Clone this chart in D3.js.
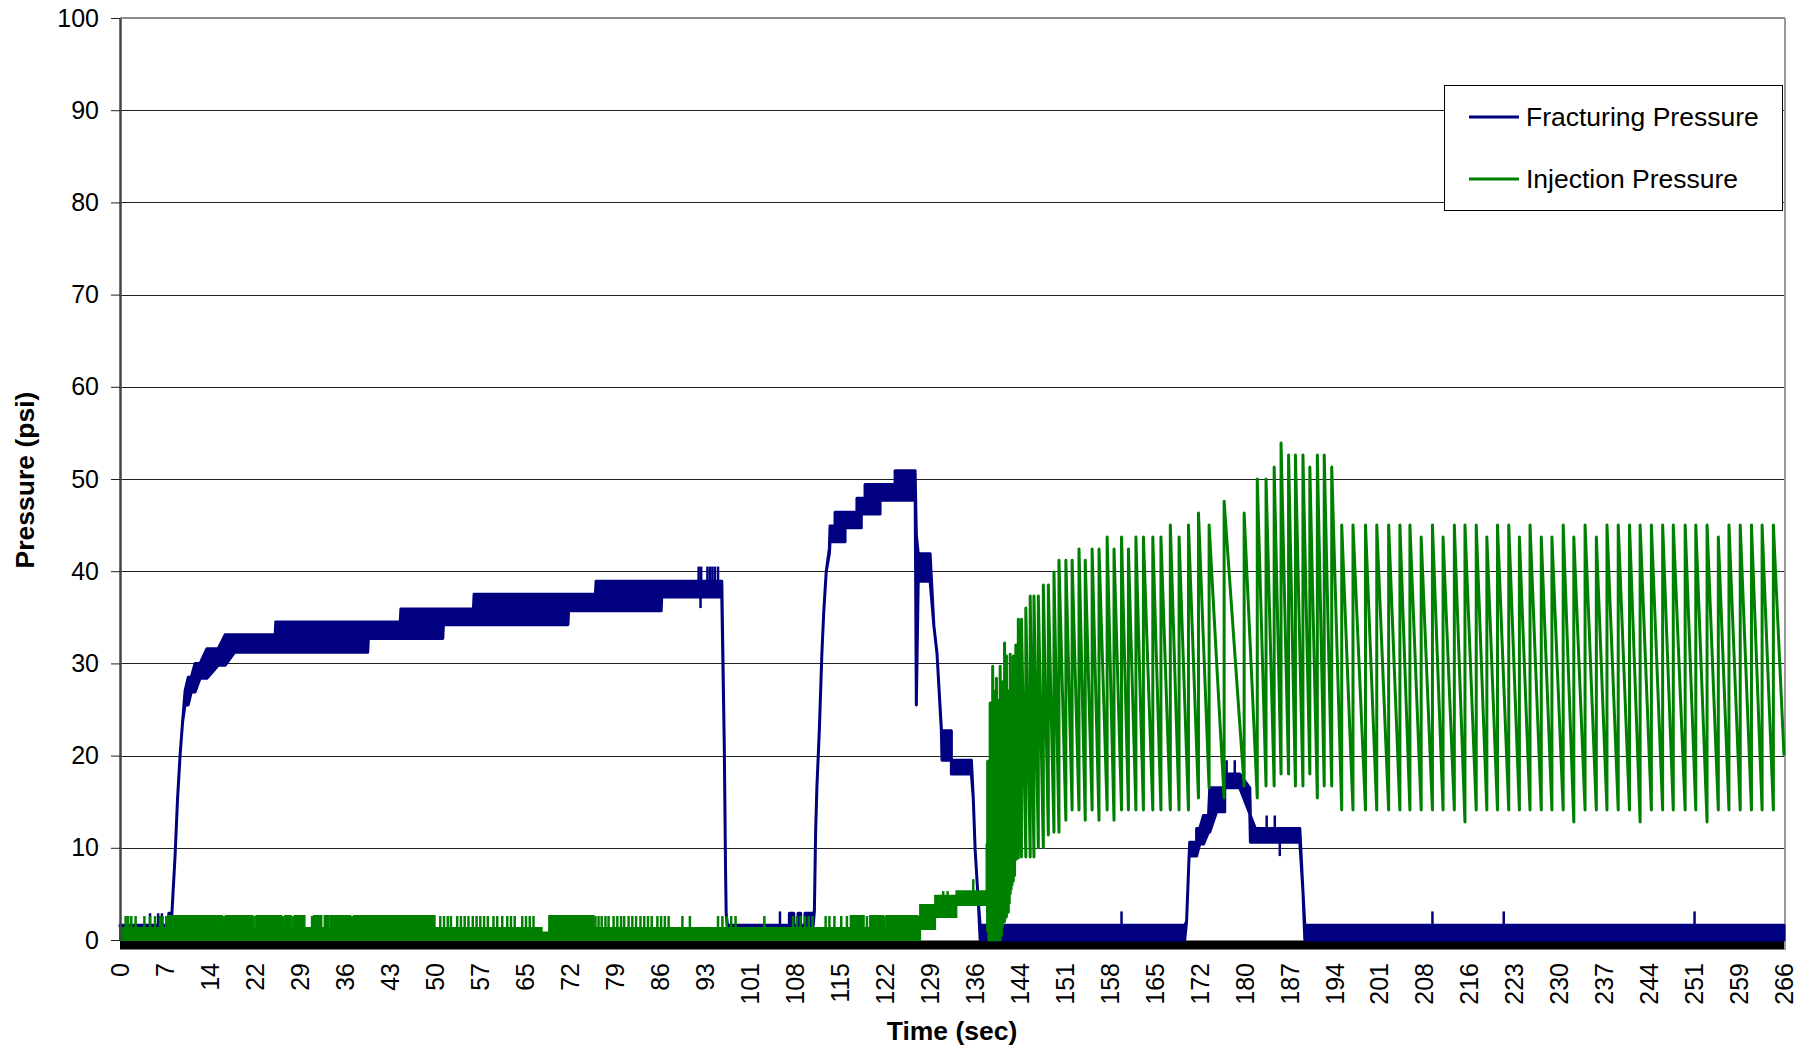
<!DOCTYPE html>
<html>
<head>
<meta charset="utf-8">
<script src="https://cdn.jsdelivr.net/npm/d3@7"></script>
<style>
  body { margin: 0; background: #fff; }
  svg { display: block; font-family: "Liberation Sans", Arial, sans-serif; }
</style>
</head>
<body>
<svg width="1811" height="1051"></svg>
<script>
const width = 1811,
    height = 1051;

// x tick labels (seconds) and y ticks (psi)
const timeLabels = [0, 7, 14, 22, 29, 36, 43, 50, 57, 65, 72, 79, 86, 93, 101, 108, 115, 122, 129, 136,
    144, 151, 158, 165, 172, 180, 187, 194, 201, 208, 216, 223, 230, 237, 244, 251, 259, 266];
const pressureTicks = [0, 10, 20, 30, 40, 50, 60, 70, 80, 90, 100];
const seriesNames = ["Fracturing Pressure", "Injection Pressure"];

// Fracturing pressure: [time, low, high] of the noisy band
const fracBand = [
    [0, 1.5, 1.6], [7.8, 1.5, 1.6], [7.8, 1.5, 2.9], [8.2, 1.5, 2.9],
    [8.3, 2.9, 2.9], [8.8, 9.1, 9.1], [9.2, 15.3, 15.3], [9.6, 20, 20], [10.0, 23.6, 23.6],
    [10.4, 25.5, 27], [10.9, 25.5, 28.5], [11.4, 26.9, 28.5], [12.0, 26.9, 30],
    [12.8, 28.4, 30], [13.9, 28.4, 31.6], [15.7, 29.8, 31.6], [16.8, 29.8, 33.1],
    [18.3, 31.2, 33.1], [24.8, 31.2, 33.1], [24.9, 31.2, 34.5], [39.6, 31.2, 34.5],
    [39.7, 32.7, 34.5], [44.8, 32.7, 34.5], [44.9, 32.7, 35.9], [51.6, 32.7, 35.9],
    [51.7, 34.2, 35.9], [56.5, 34.2, 35.9], [56.6, 34.2, 37.5], [71.6, 34.2, 37.5],
    [71.7, 35.7, 37.5], [76.0, 35.7, 37.5], [76.1, 35.7, 38.9], [86.5, 35.7, 38.9],
    [86.6, 37.2, 38.9], [96.2, 37.2, 38.9],
    [96.6, 21, 21], [96.8, 7.6, 7.6], [96.9, 2.9, 2.9], [97.1, 1.5, 1.6],
    [107.0, 1.5, 1.6], [107.0, 1.5, 2.9], [107.7, 1.5, 2.9], [107.7, 1.5, 1.6],
    [108.4, 1.5, 1.6], [108.4, 1.5, 2.9], [108.8, 1.5, 2.9], [108.8, 1.5, 1.6],
    [109.5, 1.5, 1.6], [109.5, 1.5, 2.9], [110.8, 1.5, 2.9],
    [111.0, 3.1, 3.1], [111.2, 11.7, 11.7], [111.4, 16.5, 16.5], [111.8, 22.9, 22.9],
    [112.2, 31.1, 31.1], [112.5, 35.6, 35.6], [112.9, 40, 40], [113.4, 41.9, 42.5],
    [113.5, 43.2, 44.9], [114.3, 43.2, 44.9], [114.3, 43.2, 46.4], [115.9, 43.2, 46.4],
    [115.9, 44.7, 46.4], [117.8, 44.7, 46.4], [117.8, 44.7, 47.9], [118.5, 44.7, 47.9],
    [118.5, 46.2, 47.9], [119.1, 46.2, 47.9], [119.1, 46.2, 49.4], [121.5, 46.2, 49.4],
    [121.5, 47.7, 49.4], [123.9, 47.7, 49.4], [123.9, 47.7, 50.9], [126.8, 47.7, 50.9],
    [126.8, 49.4, 50.9], [127.1, 49.4, 50.9],
    [127.3, 25.5, 44], [127.6, 38.9, 41.9], [129.5, 38.9, 41.9],
    [130.1, 34.1, 34.1], [130.6, 31.1, 31.1], [131.3, 22.7, 22.9], [131.4, 19.5, 22.7],
    [132.9, 19.5, 22.7], [132.9, 18, 19.5], [136.1, 18, 19.5],
    [136.4, 15.4, 15.4], [136.7, 9.8, 9.8], [137.2, 4.2, 4.2], [137.5, 0, 1.6],
    [170.2, 0, 1.6], [170.5, 2, 2], [170.9, 9.1, 9.1], [171.0, 9.1, 10.6], [172.1, 9.1, 10.6],
    [172.1, 9.1, 12.1], [172.6, 10.4, 12.1], [173.2, 10.4, 13.5], [174.0, 11.7, 13.5],
    [174.2, 11.7, 16.5], [175.3, 13.9, 16.5], [176.6, 13.9, 16.5], [176.6, 16.5, 18],
    [179.0, 16.5, 18], [180.6, 13.7, 16.5], [180.7, 10.6, 13.5], [181.5, 10.6, 12.1],
    [188.6, 10.6, 12.1], [189.1, 5.3, 5.3], [189.4, 0, 1.6], [266, 0, 1.6]
];

// Fracturing pressure: single spikes [time, from, to]
const fracSpikes = [
    [4.8, 1.6, 2.9], [6.1, 1.6, 2.9], [6.7, 1.6, 2.9],
    [70.9, 34.4, 36], [71.6, 34.4, 36], [92.8, 36, 38],
    [92.5, 38, 40.5], [92.9, 38, 40.5], [93.9, 38, 40.5], [94.3, 38, 40.5],
    [94.7, 38, 40.5], [95.1, 38, 40.5], [95.6, 38, 40.5],
    [105.5, 1.6, 3.1], [160.1, 1.6, 3.1], [176.9, 18, 19.5], [178.2, 18, 19.5],
    [183.3, 12, 13.5], [184.6, 12, 13.5], [185.4, 9.1, 11],
    [209.8, 1.6, 3.1], [221.2, 1.6, 3.1], [251.7, 1.6, 3.1]
];

// Injection pressure, low part: [time, low, high]
const injBase = [
    [0, 0, 1.3], [67.4, 0, 1.3], [67.4, 0, 0.8], [68.6, 0, 0.8], [68.6, 0, 1.3],
    [127.9, 0, 1.3], [127.9, 1.2, 3.8], [130.3, 1.2, 3.8], [130.3, 2.5, 4.8],
    [133.7, 2.5, 4.8], [133.7, 3.8, 5.3], [138.6, 3.8, 5.3]
];
// spans where the low part flickers up to 2.6 continuously
const injDense = [[7.7, 16.3], [16.9, 21.2], [21.8, 25.8], [26.4, 27.3], [27.9, 29.5],
    [31.0, 32.2], [32.7, 33.3], [33.6, 36.8], [37.4, 50.3], [68.6, 75.7],
    [116.8, 118.9], [119.9, 122.0], [122.5, 127.5]];
const injDenseRange = [1.3, 2.6];
// isolated flickers up to 2.6
const injSpikes = [0.9, 1.3, 1.8, 2.5, 3.9, 4.8, 5.6, 6.4, 6.8, 7.4, 16.6, 21.5, 26.1, 27.6,
    30.7, 37.1, 51.2, 51.8, 52.4, 52.9, 53.9, 54.5, 55.1, 55.7, 56.4, 57.0, 57.6, 58.2,
    58.8, 59.7, 60.3, 61.1, 61.9, 62.5, 63.1, 64.3, 64.9, 65.5, 66.1, 76.0, 76.5, 77.0,
    77.6, 78.1, 78.9, 79.5, 80.1, 80.6, 81.3, 81.9, 82.5, 83.2, 83.8, 84.4, 85.0, 85.9,
    86.5, 87.1, 87.7, 89.9, 91.1, 95.6, 96.3, 97.0, 97.7, 98.4, 103.0, 107.6, 108.2,
    108.8, 109.5, 110.1, 110.7, 112.8, 113.4, 114.2, 115.3, 116.2, 119.4, 122.2, 127.7];
const injPlateauSpikes = [[131.6, 4.8, 5.3], [132.3, 4.8, 5.3], [136.4, 5.3, 6.6]];

// Injection pressure pulses: time of each rise, trough before it, peak
const sawTime = [138.6, 138.7, 138.9, 139.1, 139.3, 139.5, 139.7, 139.9, 140.1, 140.3, 140.5,
    140.7, 140.9, 141.1, 141.25, 141.4, 141.55, 141.7, 141.85, 142.0, 142.15, 142.3, 142.45,
    142.6, 142.8, 143.0, 143.2, 143.6, 144.1, 144.8,
    145.5, 146.1, 146.8, 147.6, 148.4, 149.3, 150.1, 151.2, 152.2, 153.3, 154.3, 155.4, 156.5,
    157.8, 158.9, 160.1, 161.2, 162.4, 163.6, 165.1, 166.4, 167.9, 169.3, 170.8, 172.4, 174.1,
    176.5, 179.7, 181.8, 183.2, 184.5, 185.6, 186.8, 187.9, 189.1, 190.2, 191.4, 192.5, 193.7,
    195.3, 197.1, 199.1, 200.9, 202.8, 204.6, 206.2, 208.0, 209.8, 211.5, 213.3, 215.0, 216.8,
    218.5, 220.2, 222.0, 223.7, 225.4, 227.2, 228.9, 230.7, 232.4, 234.2, 236.0, 237.7, 239.5,
    241.3, 243.0, 244.8, 246.6, 248.3, 250.2, 251.9, 253.7, 255.5, 257.2, 259.0, 260.8, 262.5,
    264.3];
const sawLow = [4.5, 1, 0, 0, 0.5, 0, 1, 0, 0.5, 0, 1,
    0, 0.5, 1.5, 2, 2, 2.5, 2.5, 3, 3, 4, 5, 5.5,
    6, 6.4, 7, 8.7, 8.9, 9, 9,
    9, 9, 10, 10, 11.4, 11.7, 11.7, 13, 14.1, 14.1, 13, 14.1, 13,
    14.1, 13, 14.1, 14.1, 14.1, 14.1, 14.1, 14.1, 14.1, 14.1, 14.1, 15.4, 16.5,
    15.4, 16.7, 15.4, 16.7, 16.7, 18, 18, 16.7, 16.7, 18, 15.4, 16.7, 16.7,
    14.1, 14.1, 14.1, 14.1, 14.1, 14.1, 14.1, 14.1, 14.1, 14.1, 14.1, 12.8, 14.1,
    14.1, 14.1, 14.1, 14.1, 14.1, 14.1, 14.1, 14.1, 12.8, 14.1, 14.1, 14.1, 14.1,
    14.1, 12.8, 14.1, 14.1, 14.1, 14.1, 14.1, 12.8, 14.1, 14.1, 14.1, 14.1, 14.1,
    14.1];
const sawHigh = [10.4, 19.4, 16, 25.7, 22, 29.7, 24, 27, 28.4, 23, 26,
    29.7, 25, 28, 22, 32.2, 24, 30.8, 22, 27, 24, 31, 22,
    26, 30.8, 24, 32, 34.8, 34.8, 36,
    37.3, 37.3, 37.3, 38.5, 38.5, 39.9, 41.2, 41.2, 41.2, 42.4, 41.2, 42.4, 42.4,
    43.7, 42.4, 43.7, 42.4, 43.7, 43.7, 43.7, 43.7, 45, 43.7, 45, 46.3, 45,
    47.6, 46.3, 50, 50, 51.3, 53.9, 52.6, 52.6, 52.6, 51.3, 52.6, 52.6, 51.3,
    45, 45, 45, 45, 45, 45, 45, 43.7, 45, 43.7, 45, 45, 45,
    43.7, 45, 45, 43.7, 45, 43.7, 43.7, 45, 43.7, 45, 43.7, 45, 45,
    45, 45, 45, 45, 45, 45, 45, 45, 43.7, 45, 45, 45, 45,
    45];
const sawEnd = [266, 20];

const blue = "#000080",
    green = "#008000";

var svg = d3.select("svg"),
    plotLeft = 120, plotRight = 1784, plotTop = 18, plotBottom = 940;

var x = d3.scaleLinear().domain([0, 266]).range([plotLeft, plotRight]);
var xLabel = d3.scalePoint().domain(timeLabels).range([plotLeft, plotRight]);
var y = d3.scaleLinear().domain([0, 100]).range([plotBottom, plotTop]);

var line = d3.line().x(d => x(d[0])).y(d => y(d[1]));
var band = d3.area().x(d => x(d[0])).y0(d => y(d[1])).y1(d => y(d[2]));

// gridlines
svg.append("g").selectAll("line")
    .data(pressureTicks.filter(v => v > 0 && v < 100))
    .enter().append("line")
    .attr("x1", plotLeft).attr("x2", plotRight)
    .attr("y1", d => Math.round(y(d)) + 0.5).attr("y2", d => Math.round(y(d)) + 0.5)
    .style("stroke", "#222").style("stroke-width", 1);

// plot frame top and right
svg.append("line")
    .attr("x1", plotLeft).attr("x2", plotRight + 1)
    .attr("y1", y(100)).attr("y2", y(100))
    .style("stroke", "#8c8c8c").style("stroke-width", 2);
svg.append("line")
    .attr("x1", plotRight + 1).attr("x2", plotRight + 1)
    .attr("y1", y(100)).attr("y2", y(0) + 10)
    .style("stroke", "#9a9a9a").style("stroke-width", 2);

// thick zero line under the series
svg.append("line")
    .attr("x1", x(0)).attr("x2", x(266))
    .attr("y1", y(0) + 5).attr("y2", y(0) + 5)
    .style("stroke", "#000").style("stroke-width", 9);

// Fracturing pressure
svg.append("path")
    .datum(fracBand)
    .attr("d", band)
    .style("fill", blue).style("stroke", blue)
    .style("stroke-width", 3).style("stroke-linejoin", "round");

svg.append("g").selectAll("line")
    .data(fracSpikes)
    .enter().append("line")
    .attr("x1", d => x(d[0])).attr("x2", d => x(d[0]))
    .attr("y1", d => y(d[1])).attr("y2", d => y(d[2]))
    .style("stroke", blue).style("stroke-width", 2.5);

// Injection pressure, low part
svg.append("path")
    .datum(injBase)
    .attr("d", band)
    .style("fill", green).style("stroke", green).style("stroke-width", 2);

svg.append("g").selectAll("path")
    .data(injDense)
    .enter().append("path")
    .attr("d", d => band([[d[0], injDenseRange[0], injDenseRange[1]], [d[1], injDenseRange[0], injDenseRange[1]]]))
    .style("fill", green).style("stroke", green).style("stroke-width", 2);

svg.append("g").selectAll("line")
    .data(injSpikes)
    .enter().append("line")
    .attr("x1", d => x(d)).attr("x2", d => x(d))
    .attr("y1", y(injDenseRange[0])).attr("y2", y(injDenseRange[1]))
    .style("stroke", green).style("stroke-width", 2.5);

svg.append("g").selectAll("line")
    .data(injPlateauSpikes)
    .enter().append("line")
    .attr("x1", d => x(d[0])).attr("x2", d => x(d[0]))
    .attr("y1", d => y(d[1])).attr("y2", d => y(d[2]))
    .style("stroke", green).style("stroke-width", 2.5);

// Injection pressure pulses
var sawPoints = [];
sawTime.forEach(function (t, i) {
    sawPoints.push([t, sawLow[i]], [t, sawHigh[i]]);
});
sawPoints.push(sawEnd);

svg.append("path")
    .datum(sawPoints)
    .attr("d", line)
    .style("fill", "none").style("stroke", green)
    .style("stroke-width", 3).style("stroke-linejoin", "round");

// y axis
var yAxis = svg.append("g")
    .attr("transform", "translate(" + plotLeft + ",0)")
    .call(d3.axisLeft(y).tickValues(pressureTicks).tickSize(9).tickSizeOuter(0).tickPadding(12));
yAxis.select(".domain").style("stroke", "#444").style("stroke-width", 2.5);
yAxis.selectAll(".tick line").style("stroke", "#222");
yAxis.selectAll("text")
    .style("font-size", "25px").style("fill", "#000")
    .style("font-family", "'Liberation Sans', Arial, sans-serif");

// x axis (category labels)
var xAxis = svg.append("g")
    .attr("transform", "translate(0," + y(0) + ")")
    .call(d3.axisBottom(xLabel).tickSize(0).tickPadding(0));
xAxis.select(".domain").remove();
xAxis.selectAll("text")
    .attr("transform", "rotate(-90)")
    .attr("x", -23).attr("y", 0).attr("dy", "0.35em")
    .style("text-anchor", "end")
    .style("font-size", "25px").style("fill", "#000")
    .style("font-family", "'Liberation Sans', Arial, sans-serif");

// axis titles
svg.append("text")
    .attr("x", (plotLeft + plotRight) / 2).attr("y", 1040)
    .style("text-anchor", "middle").style("font-weight", "bold").style("font-size", "26.5px")
    .text("Time (sec)");

svg.append("text")
    .attr("transform", "translate(34,480) rotate(-90)")
    .style("text-anchor", "middle").style("font-weight", "bold").style("font-size", "26.5px")
    .text("Pressure (psi)");

// legend
var legend = svg.append("g").attr("transform", "translate(1444,85)");
legend.append("rect")
    .attr("x", 0.5).attr("y", 0.5).attr("width", 338).attr("height", 125)
    .style("fill", "#fff").style("stroke", "#000").style("stroke-width", 1);

var item = legend.selectAll(".item")
    .data(seriesNames)
    .enter().append("g")
    .attr("transform", (d, i) => "translate(0," + (32 + i * 62) + ")");
item.append("line")
    .attr("x1", 25).attr("x2", 75)
    .style("stroke", (d, i) => i ? green : blue).style("stroke-width", 3);
item.append("text")
    .attr("x", 82).attr("dy", "0.35em")
    .style("font-size", "26.5px")
    .text(d => d);
</script>
</body>
</html>
